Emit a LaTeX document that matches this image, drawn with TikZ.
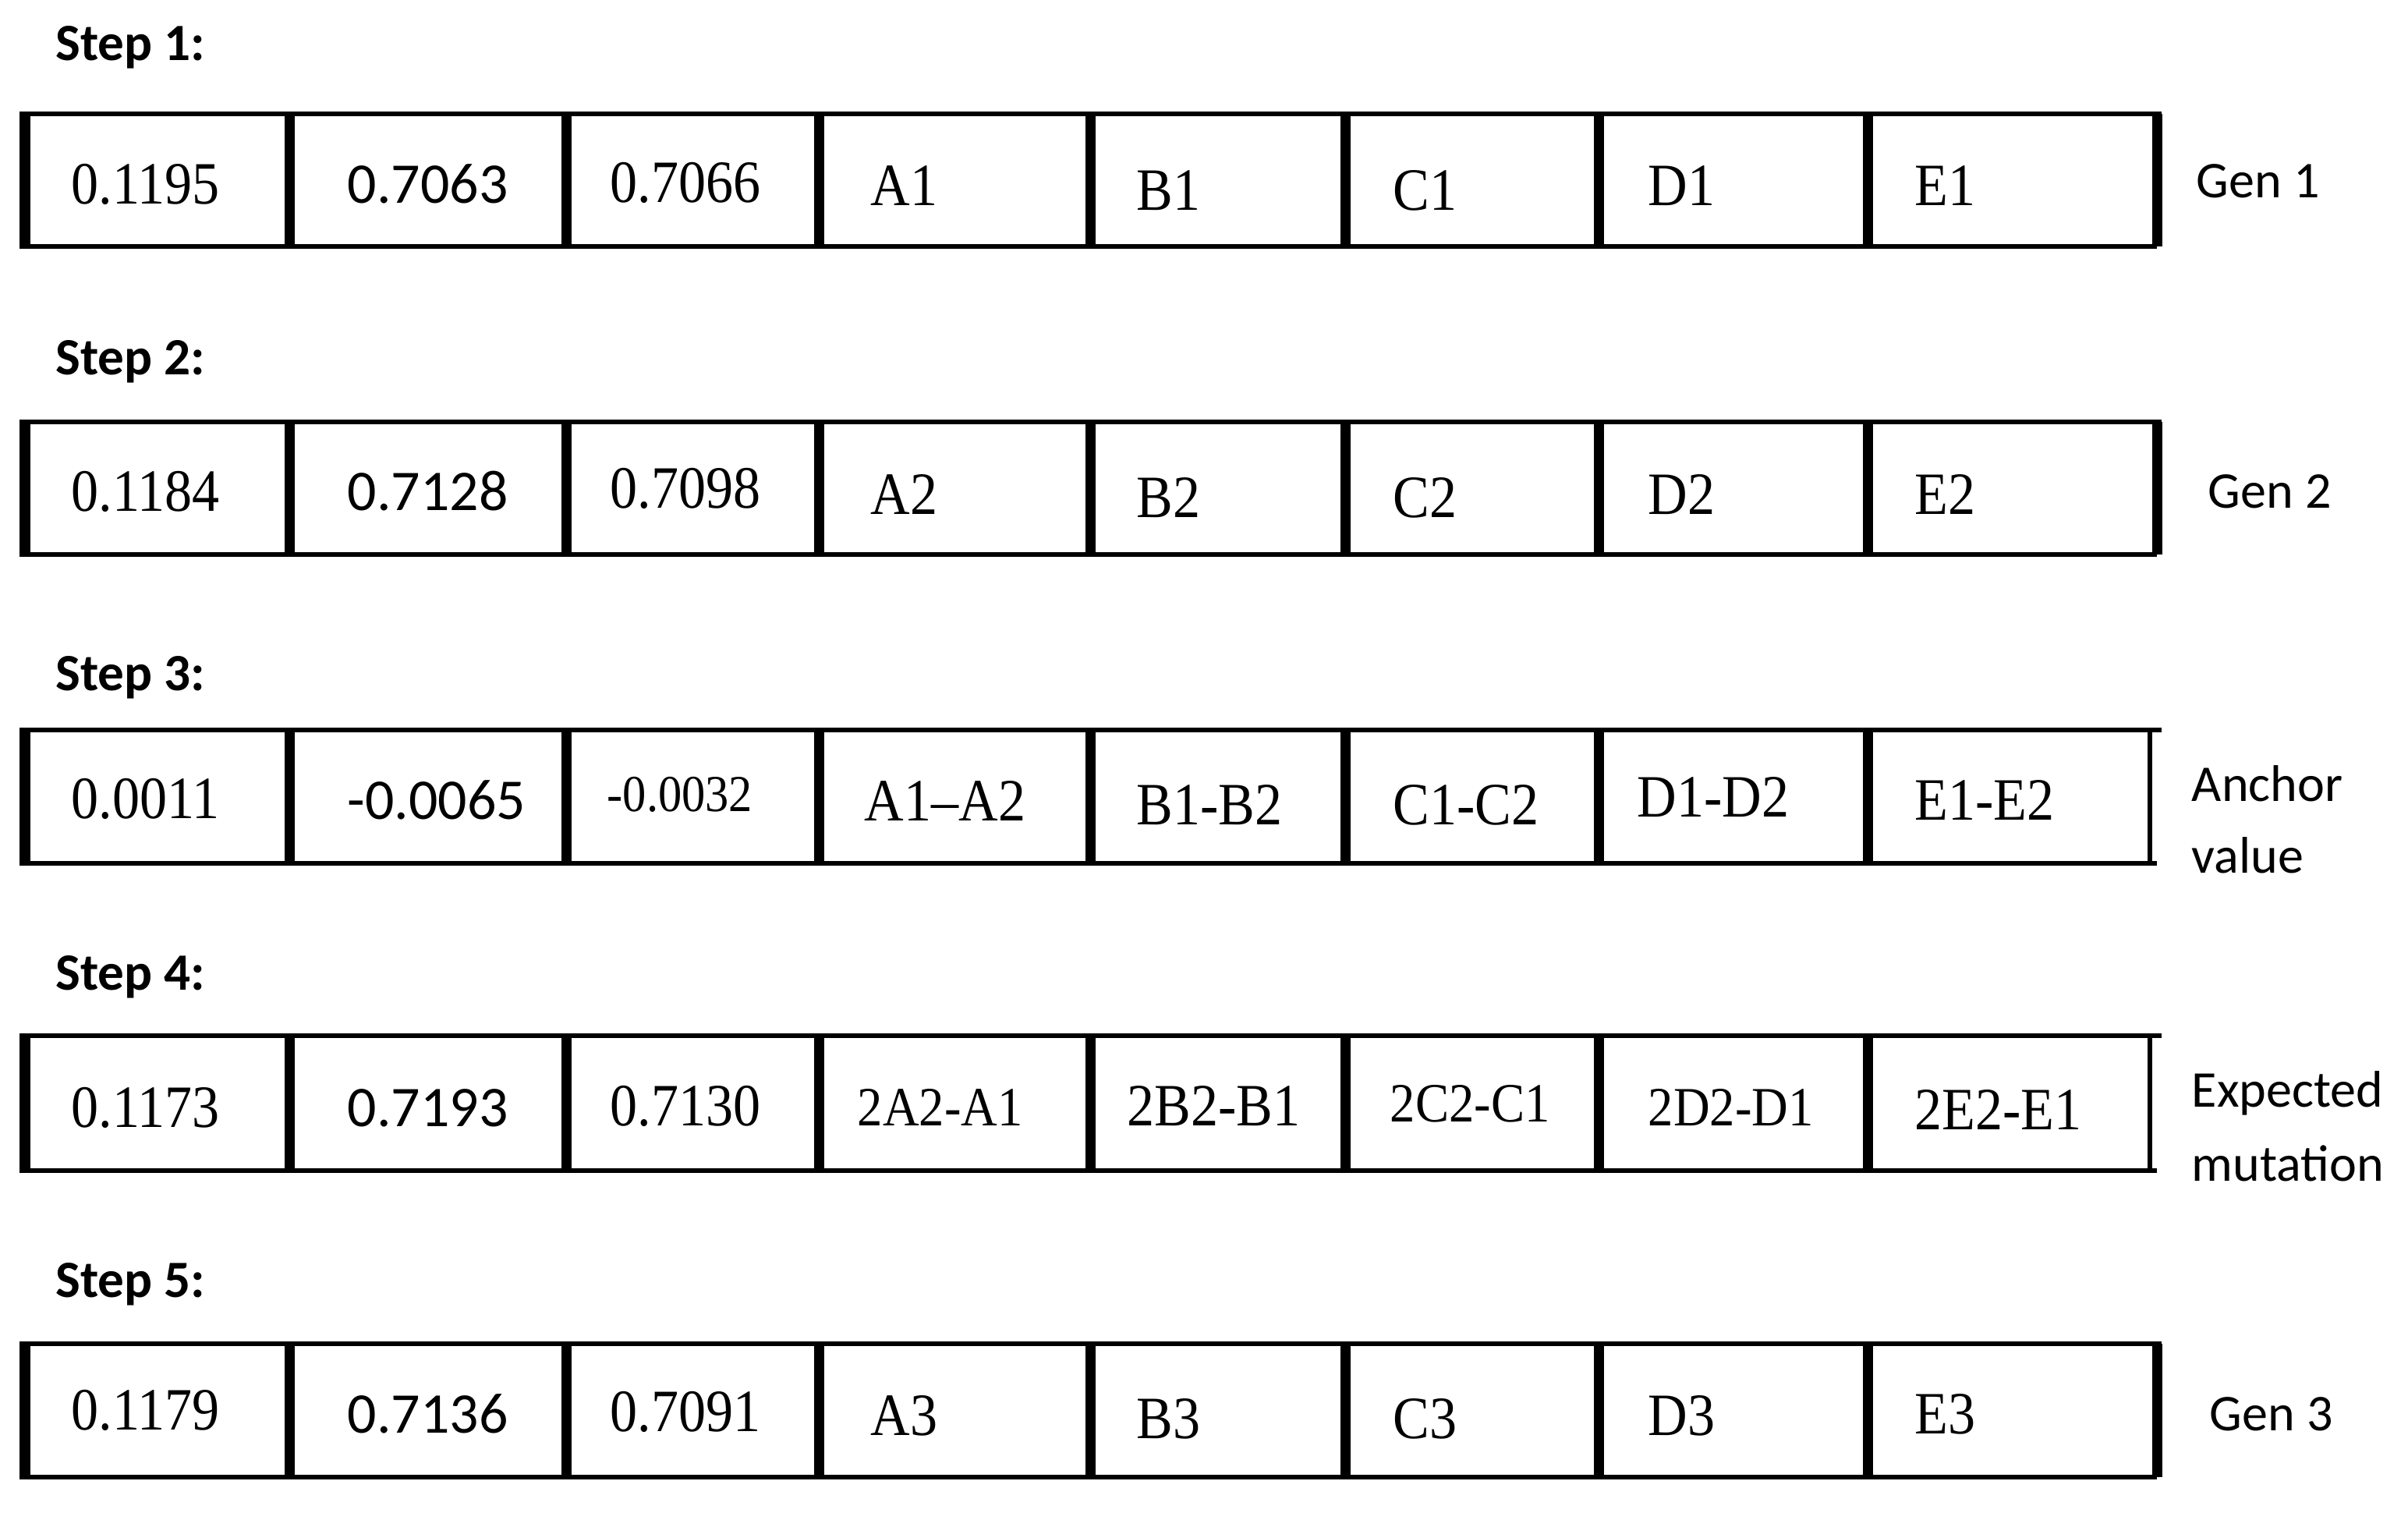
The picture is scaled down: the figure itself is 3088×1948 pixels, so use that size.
\documentclass[tikz,border=0pt]{standalone}
\usepackage{fontspec}
\setmainfont{Liberation Serif}[FakeStretch=0.91]
\newfontfamily\calfont{Carlito}

\tikzset{
  cellval/.style={anchor=west,inner sep=0pt,font=\fontsize{21.9}{24}\selectfont},
  cellsmall/.style={anchor=west,inner sep=0pt,font=\fontsize{20.2}{22}\selectfont},
  celltiny/.style={anchor=west,inner sep=0pt,font=\fontsize{18.9}{21}\selectfont},
  cellsans/.style={anchor=west,inner sep=0pt,font=\calfont\fontsize{21}{24}\selectfont},
  steplabel/.style={anchor=base west,inner sep=0pt,font=\calfont\bfseries\fontsize{19.1}{22}\selectfont},
  sidelabel/.style={anchor=base west,inner sep=0pt,font=\calfont\fontsize{18.8}{22}\selectfont},
  hline/.style={line width=0.06cm},
  vbar/.style={line width=0.13cm},
  thinbar/.style={line width=0.06cm}
}

\begin{document}
\begin{tikzpicture}[x=0.01cm,y=-0.01cm]
\useasboundingbox (0,0) rectangle (3088,1948);

\foreach \t/\b [count=\i] in {146/316,541/711,936/1107,1328/1501,1723/1894}{
  \draw[hline] (25,\t) -- (2772,\t);
  \draw[hline] (25,\b) -- (2766,\b);
  \foreach \x in {32,371,726,1050,1398,1725,2050,2395}
    \draw[vbar] (\x,\t) -- (\x,\b);
}
\draw[vbar] (2766,146) -- (2766,316);
\draw[vbar] (2766,541) -- (2766,711);
\draw[thinbar] (2757,936) -- (2757,1110);
\draw[thinbar] (2757,1328) -- (2757,1504);
\draw[vbar] (2766,1723) -- (2766,1894);

\node[steplabel] (step1) at (71,77) {Step 1:};
\node[steplabel] (step2) at (71,480) {Step 2:};
\node[steplabel] (step3) at (71,885) {Step 3:};
\node[steplabel] (step4) at (71,1269) {Step 4:};
\node[steplabel] (step5) at (71,1663) {Step 5:};

\foreach \x/\y/\s/\f [count=\j] in {91/236/0.1195/cellval,445/236/0.7063/cellsans,782/234/0.7066/cellval,1116/238/A1/cellval,1457/244/B1/cellval,1786/244/C1/cellval,2113/238/D1/cellval,2455/238/E1/cellval}
  \node[\f] (r1-\j) at (\x,\y) {\s};
\foreach \x/\y/\s/\f [count=\j] in {91/630/0.1184/cellval,445/630/0.7128/cellsans,782/626/0.7098/cellval,1116/634/A2/cellval,1457/638/B2/cellval,1786/638/C2/cellval,2113/634/D2/cellval,2455/634/E2/cellval}
  \node[\f] (r2-\j) at (\x,\y) {\s};
\foreach \x/\y/\s/\f [count=\j] in {91/1024/0.0011/cellval,445/1026/-0.0065/cellsans,778/1019/-0.0032/celltiny,1108/1027/A1--A2/cellval,1457/1032/B1-B2/cellval,1786/1032/C1-C2/cellval,2099/1022/D1-D2/cellval,2455/1026/E1-E2/cellval}
  \node[\f] (r3-\j) at (\x,\y) {\s};
\foreach \x/\y/\s/\f [count=\j] in {91/1420/0.1173/cellval,445/1421/0.7193/cellsans,782/1418/0.7130/cellval,1099/1420/2A2-A1/cellsmall,1445/1418/2B2-B1/cellval,1782/1415/2C2-C1/cellsmall,2113/1420/2D2-D1/cellsmall,2455/1423/2E2-E1/cellval}
  \node[\f] (r4-\j) at (\x,\y) {\s};
\foreach \x/\y/\s/\f [count=\j] in {91/1808/0.1179/cellval,445/1813/0.7136/cellsans,782/1810/0.7091/cellval,1116/1815/A3/cellval,1457/1819/B3/cellval,1786/1819/C3/cellval,2113/1815/D3/cellval,2455/1813/E3/cellval}
  \node[\f] (r5-\j) at (\x,\y) {\s};

\node[sidelabel] (gen1) at (2816,253) {Gen 1};
\node[sidelabel] (gen2) at (2831,651) {Gen 2};
\node[sidelabel] (anchor) at (2810,1027) {Anchor};
\node[sidelabel] (anchorb) at (2810,1119) {value};
\node[sidelabel] (expect) at (2810,1419) {Expected};
\node[sidelabel] (expectb) at (2810,1514) {mutation};
\node[sidelabel] (gen3) at (2833,1834) {Gen 3};
\end{tikzpicture}
\end{document}
